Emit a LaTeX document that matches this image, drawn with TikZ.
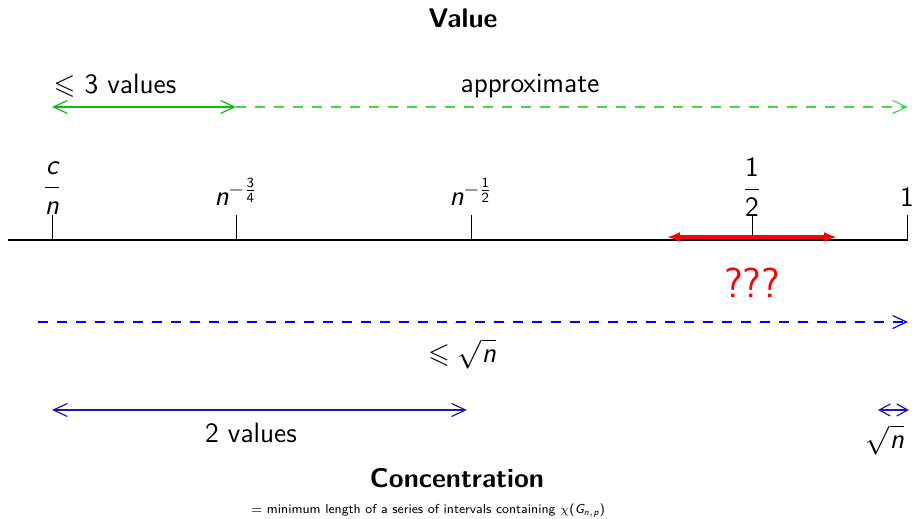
\documentclass[tikz,border=0pt]{standalone}
\usepackage{amsmath,amssymb}
\usetikzlibrary{arrows.meta}
\renewcommand{\familydefault}{\sfdefault}
\newcommand{\mi}[1]{\textsf{\itshape #1}}
\newcommand{\mr}[1]{\textsf{#1}}
\definecolor{gsolid}{RGB}{20,185,20}
\definecolor{gdash}{RGB}{70,215,70}
\definecolor{bsolid}{RGB}{25,25,175}
\definecolor{bdash}{RGB}{0,0,255}
\tikzset{
  lbl/.style={inner sep=0pt, font=\fontsize{14}{16}\selectfont},
  ttl/.style={inner sep=0pt, font=\fontsize{13.5}{16}\selectfont\bfseries},
  thinarrow/.style={line width=0.6pt},
  dashpat/.style={dash pattern=on 5pt off 4.5pt},
  tick/.style={line width=0.5pt}
}
\begin{document}
\begin{tikzpicture}[x=0.5pt,y=-0.5pt]
\useasboundingbox (0,0) rectangle (912,519);
% titles
\node[ttl] (val) at (463,18) {Value};
\node[ttl] (conc) at (457,478) {Concentration};
\node[inner sep=0pt, font=\fontsize{6.5}{8}\selectfont] (foot) at (428,511) {$=$ minimum length of a series of intervals containing $\chi\mr{(}\mi{G}_{\mi{n},\mi{p}}\mr{)}$};
% green row
\node[lbl] (l3) at (115,86) {$\leqslant$ 3 values};
\node[lbl] (appr) at (530,86) {approximate};
\coordinate (g0) at (52,107);
\coordinate (g1) at (236,107);
\coordinate (g2) at (908,107);
\draw[thinarrow, gdash, dashpat, -{Straight Barb[length=7pt,width=6.5pt]}] (g1) -- (g2);
\draw[thinarrow, gsolid, {Straight Barb[length=7pt,width=6.5pt]}-{Straight Barb[length=7pt,width=6.5pt]}] (g0) -- (g1);
% axis
\coordinate (a0) at (8,240);
\coordinate (a1) at (908,240);
\coordinate (t1) at (52,240);
\coordinate (t2) at (236,240);
\coordinate (t3) at (471,240);
\coordinate (t4) at (752,240);
\coordinate (t5) at (907,240);
\foreach \t in {t1,t2,t3,t4,t5} { \draw[tick] (\t) -- ++(0,-25); }
\draw[line width=1pt] (a0) -- (a1);
\node[lbl] (lc) at (52,188) {$\dfrac{\mi{c}}{\mi{n}}$};
\node[lbl] (l34) at (236,192) {$\mi{n}^{-\frac{\mr{3}}{\mr{4}}}$};
\node[lbl] (l12) at (471,192) {$\mi{n}^{-\frac{\mr{1}}{\mr{2}}}$};
\node[lbl] (lh) at (752,187) {$\dfrac{\mr{1}}{\mr{2}}$};
\node[lbl] (l1) at (907,197) {1};
% red
\coordinate (r0) at (667,237);
\coordinate (r1) at (837,237);
\draw[red, line width=1.8pt, {Latex[length=6.5pt,width=5pt]}-{Latex[length=6.5pt,width=5pt]}] (r0) -- (r1);
\node[inner sep=0pt, text=red, font=\fontsize{21}{24}\selectfont] (qq) at (752,283) {???};
% blue dashed
\coordinate (b0) at (38,322);
\coordinate (b1) at (908,322);
\draw[thinarrow, bdash, dashpat, -{Straight Barb[length=7pt,width=6.5pt]}] (b0) -- (b1);
\node[lbl] (lsq) at (462,354) {$\leqslant \sqrt{\mi{n}}$};
% blue solid
\coordinate (c0) at (52,410);
\coordinate (c1) at (467,410);
\draw[thinarrow, bsolid, {Straight Barb[length=7pt,width=6.5pt]}-{Straight Barb[length=7pt,width=6.5pt]}] (c0) -- (c1);
\node[lbl] (l2v) at (251,433) {2 values};
\coordinate (d0) at (878,410);
\coordinate (d1) at (909,410);
\draw[thinarrow, bsolid, {Straight Barb[length=5.5pt,width=6pt]}-{Straight Barb[length=5.5pt,width=6pt]}] (d0) -- (d1);
\node[lbl] (lsq2) at (885,440) {$\sqrt{\mi{n}}$};
\end{tikzpicture}
\end{document}
